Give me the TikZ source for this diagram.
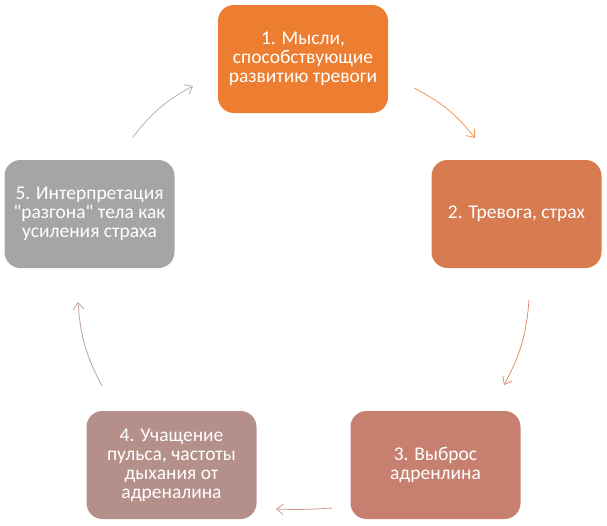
\documentclass[tikz,border=0pt]{standalone}
\usepackage{fontspec}
\setmainfont{Carlito}[Ligatures=TeXOff]
\usetikzlibrary{arrows.meta}
\definecolor{stepA}{HTML}{ED7D31}
\definecolor{stepB}{HTML}{D97B51}
\definecolor{stepC}{HTML}{C78070}
\definecolor{stepD}{HTML}{B5908A}
\definecolor{stepE}{HTML}{A5A5A5}
\tikzset{
  stepbox/.style={rounded corners=12pt,minimum width=127.5pt,minimum height=81pt,
    text=white,align=center,inner sep=0pt,font=\fontsize{14.6}{14.3}\selectfont},
  cyclearrow/.style={semithick,-{Straight Barb[length=5pt,width=8pt]}}
}
\begin{document}
\begin{tikzpicture}[x=0.75pt,y=-0.75pt]
  \useasboundingbox (0,0) rectangle (607,525);
  % the five steps
  \node[stepbox,fill=stepA] (thoughts) at (303,59) {1. Мысли,\\способствующие\\развитию тревоги};
  \node[stepbox,fill=stepB] (fear) at (516.5,214) {2. Тревога, страх};
  \node[stepbox,fill=stepC] (adrenaline) at (435.5,465) {3. Выброс\\адренлина};
  \node[stepbox,fill=stepD] (pulse) at (171.5,465) {4. Учащение\\пульса, частоты\\дыхания от\\адреналина};
  \node[stepbox,fill=stepE] (interp) at (89.5,214) {5. Интерпретация\\"разгона" тела как\\усиления страха};
  % arrow ends
  \coordinate (a1) at (414,88);  \coordinate (b1) at (475,138);
  \coordinate (a2) at (529,300); \coordinate (b2) at (504,385);
  \coordinate (a3) at (332,508); \coordinate (b3) at (276,509);
  \coordinate (a4) at (102,386); \coordinate (b4) at (78,302);
  \coordinate (a5) at (133,137); \coordinate (b5) at (193,86);
  \draw[cyclearrow,color=stepA!80] (a1) to[bend left=12] (b1);
  \draw[cyclearrow,color=stepB!85] (a2) to[bend left=12] (b2);
  \draw[cyclearrow,color=stepC!80] (a3) to[bend left=3] (b3);
  \draw[cyclearrow,color=stepD!85] (a4) to[bend left=12] (b4);
  \draw[cyclearrow,color=stepE!85] (a5) to[bend left=12] (b5);
\end{tikzpicture}
\end{document}
